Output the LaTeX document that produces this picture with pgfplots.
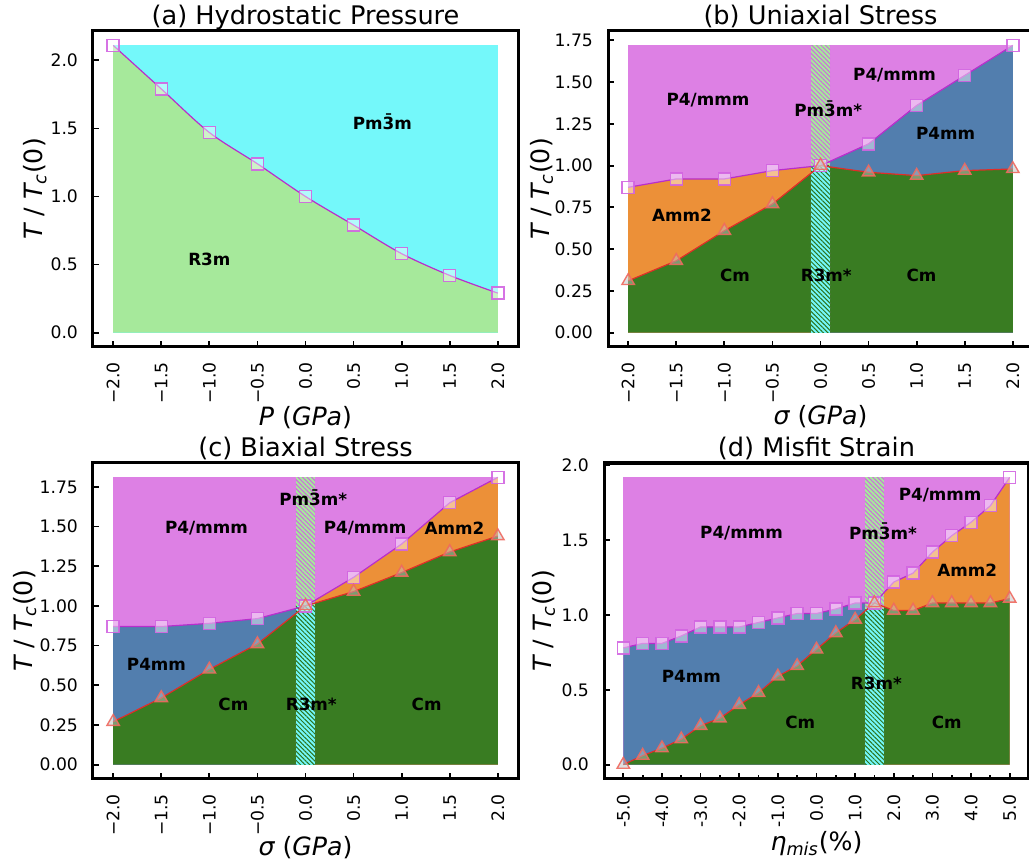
\documentclass[border=0pt]{standalone}
\usepackage{pgfplots}
\pgfplotsset{compat=1.18}
\usepackage{fontspec}
\setmainfont{DejaVu Sans}
\usetikzlibrary{patterns.meta}
\definecolor{cyanR}{RGB}{116,248,250}
\definecolor{lgreenR}{RGB}{166,233,155}
\definecolor{violetR}{RGB}{221,128,228}
\definecolor{orangeR}{RGB}{236,144,56}
\definecolor{blueR}{RGB}{82,126,174}
\definecolor{greenR}{RGB}{57,124,34}
\definecolor{lineV}{RGB}{185,45,205}
\definecolor{lineR}{RGB}{225,45,40}
\definecolor{edgeV}{RGB}{210,100,225}
\definecolor{edgeR}{RGB}{240,105,95}
\definecolor{hatchV}{RGB}{205,110,220}
\definecolor{hatchG}{RGB}{45,115,30}
\pgfplotsset{
  panel/.style={
    scale only axis, width=212.5pt, height=158pt,
    axis line style={line width=1.5pt},
    tick align=inside, xtick pos=bottom, ytick pos=left,
    major tick length=3pt, minor tick length=1.8pt,
    every tick/.style={black, line width=0.9pt},
    xticklabel shift=4pt, yticklabel shift=4pt,
    tick label style={font=\fontsize{8.6}{10}\selectfont},
    xticklabel style={rotate=90, anchor=east},
    label style={font=\fontsize{12.6}{14}\selectfont},
    every axis title shift=0pt,
    title style={font=\fontsize{12.8}{14}\selectfont, at={(0.5,1)}, anchor=base, yshift=3.2pt, inner sep=0pt},
  },
  sq/.style={color=lineV, line width=0.6pt, mark=square*, mark size=3pt,
    mark options={draw=edgeV, fill=white, fill opacity=0.45, draw opacity=0.9, line width=0.7pt}},
  tri/.style={color=lineR, line width=0.6pt, mark=triangle*, mark size=3.6pt,
    mark options={draw=edgeR, fill=lightgray, fill opacity=0.5, draw opacity=0.9, line width=0.7pt}},
  reg/.style={fill=#1, draw=none, forget plot},
  hat/.style={draw=none, pattern={Lines[angle=-45, distance=1.6pt, line width=0.5pt]}, pattern color=#1},
}
\tikzset{ph/.style={font=\bfseries\fontsize{8.4}{9}\selectfont, text=black}}
\newcommand{\TTc}{{\itshape T} / {\itshape T}\textsubscript{\itshape c}(0)}
\begin{document}
\begin{tikzpicture}
% ---------------- (a)
\begin{axis}[panel, at={(46.5pt,260pt)}, anchor=south west,
  xmin=-2.21, xmax=2.21, ymin=-0.1055, ymax=2.2155,
  xtick={-2,-1.5,-1,-0.5,0,0.5,1,1.5,2},
  xticklabels={−2.0,−1.5,−1.0,−0.5,0.0,0.5,1.0,1.5,2.0},
  ytick={0,0.5,1,1.5,2}, yticklabels={0.0,0.5,1.0,1.5,2.0},
  title={(a) Hydrostatic Pressure},
  xlabel={{\itshape P} ({\itshape GPa})}, ylabel={\TTc},
  ylabel style={at={(axis description cs:-0.136,0.5)}, anchor=center},
  xlabel style={at={(axis description cs:0.5,-0.225)}, anchor=center}]
\addplot[reg=cyanR] coordinates {(-2,2.11) (2,2.11)} \closedcycle;
\addplot[reg=lgreenR, smooth] coordinates {(-2,2.11) (-1.5,1.79) (-1,1.47) (-0.5,1.24) (0,1.00) (0.5,0.79) (1,0.58) (1.5,0.42) (2,0.29)} \closedcycle;
\addplot[sq, smooth] coordinates {(-2,2.11) (-1.5,1.79) (-1,1.47) (-0.5,1.24) (0,1.00) (0.5,0.79) (1,0.58) (1.5,0.42) (2,0.29)};
\node[ph] at (axis cs:0.8,1.55) {Pm\=3m};
\node[ph] at (axis cs:-1.0,0.54) {R3m};
\end{axis}
% ---------------- (b)
\begin{axis}[panel, at={(304pt,260pt)}, anchor=south west,
  xmin=-2.21, xmax=2.21, ymin=-0.086, ymax=1.806,
  xtick={-2,-1.5,-1,-0.5,0,0.5,1,1.5,2},
  xticklabels={−2.0,−1.5,−1.0,−0.5,0.0,0.5,1.0,1.5,2.0},
  ytick={0,0.25,0.5,0.75,1,1.25,1.5,1.75},
  yticklabels={0.00,0.25,0.50,0.75,1.00,1.25,1.50,1.75},
  title={(b) Uniaxial Stress},
  xlabel={{\itshape σ} ({\itshape GPa})}, ylabel={\TTc},
  ylabel style={at={(axis description cs:-0.156,0.5)}, anchor=center},
  xlabel style={at={(axis description cs:0.5,-0.22)}, anchor=center}]
\addplot[reg=violetR] coordinates {(-2,1.72) (2,1.72)} \closedcycle;
\addplot[reg=orangeR] coordinates {(-2,0.87) (-1.5,0.92) (-1,0.92) (-0.5,0.97) (0,1.00)} \closedcycle;
\addplot[reg=blueR] coordinates {(0,1.00) (0.5,1.13) (1,1.36) (1.5,1.54) (2,1.72)} \closedcycle;
\addplot[reg=greenR] coordinates {(-2,0.31) (-1.5,0.43) (-1,0.61) (-0.5,0.77) (0,1.00) (0.5,0.96) (1,0.94) (1.5,0.97) (2,0.98)} \closedcycle;
\addplot[reg=lgreenR] coordinates {(-0.1,1.72) (0.1,1.72)} \closedcycle;
\addplot[hat=hatchV, forget plot] coordinates {(-0.1,1.72) (0.1,1.72)} \closedcycle;
\addplot[reg=cyanR] coordinates {(-0.1,1.0) (0.1,1.0)} \closedcycle;
\addplot[hat=hatchG, forget plot] coordinates {(-0.1,1.0) (0.1,1.0)} \closedcycle;
\addplot[sq] coordinates {(-2,0.87) (-1.5,0.92) (-1,0.92) (-0.5,0.97) (0,1.00) (0.5,1.13) (1,1.36) (1.5,1.54) (2,1.72)};
\addplot[tri] coordinates {(-2,0.31) (-1.5,0.43) (-1,0.61) (-0.5,0.77) (0,1.00) (0.5,0.96) (1,0.94) (1.5,0.97) (2,0.98)};
\node[ph] at (axis cs:-1.17,1.39) {P4/mmm};
\node[ph] at (axis cs:0.08,1.34) {Pm\=3m*};
\node[ph] at (axis cs:0.77,1.54) {P4/mmm};
\node[ph] at (axis cs:1.30,1.19) {P4mm};
\node[ph] at (axis cs:-1.44,0.70) {Amm2};
\node[ph] at (axis cs:-0.89,0.34) {Cm};
\node[ph] at (axis cs:0.06,0.34) {R3m*};
\node[ph] at (axis cs:1.05,0.34) {Cm};
\end{axis}
% ---------------- (c)
\begin{axis}[panel, at={(46.5pt,44pt)}, anchor=south west,
  xmin=-2.21, xmax=2.21, ymin=-0.0905, ymax=1.9005,
  xtick={-2,-1.5,-1,-0.5,0,0.5,1,1.5,2},
  xticklabels={−2.0,−1.5,−1.0,−0.5,0.0,0.5,1.0,1.5,2.0},
  ytick={0,0.25,0.5,0.75,1,1.25,1.5,1.75},
  yticklabels={0.00,0.25,0.50,0.75,1.00,1.25,1.50,1.75},
  title={(c) Biaxial Stress},
  xlabel={{\itshape σ} ({\itshape GPa})}, ylabel={\TTc},
  ylabel style={at={(axis description cs:-0.16,0.5)}, anchor=center},
  xlabel style={at={(axis description cs:0.5,-0.218)}, anchor=center}]
\addplot[reg=violetR] coordinates {(-2,1.81) (2,1.81)} \closedcycle;
\addplot[reg=blueR] coordinates {(-2,0.87) (-1.5,0.87) (-1,0.89) (-0.5,0.92) (0,1.00)} \closedcycle;
\addplot[reg=orangeR] coordinates {(0,1.00) (0.5,1.18) (1,1.39) (1.5,1.65) (2,1.81)} \closedcycle;
\addplot[reg=greenR] coordinates {(-2,0.27) (-1.5,0.42) (-1,0.60) (-0.5,0.76) (0,1.00) (0.5,1.09) (1,1.21) (1.5,1.34) (2,1.44)} \closedcycle;
\addplot[reg=lgreenR] coordinates {(-0.1,1.81) (0.1,1.81)} \closedcycle;
\addplot[hat=hatchV, forget plot] coordinates {(-0.1,1.81) (0.1,1.81)} \closedcycle;
\addplot[reg=cyanR] coordinates {(-0.1,1.0) (0.1,1.0)} \closedcycle;
\addplot[hat=hatchG, forget plot] coordinates {(-0.1,1.0) (0.1,1.0)} \closedcycle;
\addplot[sq] coordinates {(-2,0.87) (-1.5,0.87) (-1,0.89) (-0.5,0.92) (0,1.00) (0.5,1.18) (1,1.39) (1.5,1.65) (2,1.81)};
\addplot[tri] coordinates {(-2,0.27) (-1.5,0.42) (-1,0.60) (-0.5,0.76) (0,1.00) (0.5,1.09) (1,1.21) (1.5,1.34) (2,1.44)};
\node[ph] at (axis cs:0.08,1.68) {Pm\=3m*};
\node[ph] at (axis cs:-1.03,1.49) {P4/mmm};
\node[ph] at (axis cs:0.62,1.49) {P4/mmm};
\node[ph] at (axis cs:1.55,1.49) {Amm2};
\node[ph] at (axis cs:-1.55,0.63) {P4mm};
\node[ph] at (axis cs:-0.75,0.38) {Cm};
\node[ph] at (axis cs:0.06,0.38) {R3m*};
\node[ph] at (axis cs:1.26,0.38) {Cm};
\end{axis}
% ---------------- (d)
\begin{axis}[panel, at={(302pt,44pt)}, anchor=south west,
  xmin=-5.5, xmax=5.5, ymin=-0.096, ymax=2.016,
  xtick={-5,-4,-3,-2,-1,0,1,2,3,4,5},
  xticklabels={-5.0,-4.0,-3.0,-2.0,-1.0,0.0,1.0,2.0,3.0,4.0,5.0},
  minor xtick={-4.5,-3.5,-2.5,-1.5,-0.5,0.5,1.5,2.5,3.5,4.5},
  ytick={0,0.5,1,1.5,2}, yticklabels={0.0,0.5,1.0,1.5,2.0},
  title={(d) Misfit Strain},
  xlabel={{\itshape η}\textsubscript{\itshape mis}(\%)}, ylabel={\TTc},
  ylabel style={at={(axis description cs:-0.142,0.5)}, anchor=center},
  xlabel style={at={(axis description cs:0.5,-0.204)}, anchor=center}]
\addplot[reg=violetR] coordinates {(-5,1.92) (5,1.92)} \closedcycle;
\addplot[reg=blueR] coordinates {(-5,0.78) (-4.5,0.81) (-4,0.81) (-3.5,0.86) (-3,0.92) (-2.5,0.92) (-2,0.92) (-1.5,0.95) (-1,0.98) (-0.5,1.01) (0,1.01) (0.5,1.04) (1,1.08) (1.5,1.08)} \closedcycle;
\addplot[reg=orangeR] coordinates {(1.5,1.08) (2,1.22) (2.5,1.28) (3,1.42) (3.5,1.53) (4,1.62) (4.5,1.73) (5,1.92)} \closedcycle;
\addplot[reg=greenR] coordinates {(-5,0.0) (-4.5,0.06) (-4,0.11) (-3.5,0.17) (-3,0.26) (-2.5,0.31) (-2,0.40) (-1.5,0.48) (-1,0.59) (-0.5,0.66) (0,0.77) (0.5,0.88) (1,0.97) (1.5,1.08) (2,1.03) (2.5,1.03) (3,1.08) (3.5,1.08) (4,1.08) (4.5,1.08) (5,1.11)} \closedcycle;
\addplot[reg=lgreenR] coordinates {(1.25,1.92) (1.75,1.92)} \closedcycle;
\addplot[hat=hatchV, forget plot] coordinates {(1.25,1.92) (1.75,1.92)} \closedcycle;
\addplot[reg=cyanR] coordinates {(1.25,1.04) (1.75,1.04)} \closedcycle;
\addplot[hat=hatchG, forget plot] coordinates {(1.25,1.04) (1.75,1.04)} \closedcycle;
\addplot[sq] coordinates {(-5,0.78) (-4.5,0.81) (-4,0.81) (-3.5,0.86) (-3,0.92) (-2.5,0.92) (-2,0.92) (-1.5,0.95) (-1,0.98) (-0.5,1.01) (0,1.01) (0.5,1.04) (1,1.08) (1.5,1.08) (2,1.22) (2.5,1.28) (3,1.42) (3.5,1.53) (4,1.62) (4.5,1.73) (5,1.92)};
\addplot[tri] coordinates {(-5,0.0) (-4.5,0.06) (-4,0.11) (-3.5,0.17) (-3,0.26) (-2.5,0.31) (-2,0.40) (-1.5,0.48) (-1,0.59) (-0.5,0.66) (0,0.77) (0.5,0.88) (1,0.97) (1.5,1.08) (2,1.03) (2.5,1.03) (3,1.08) (3.5,1.08) (4,1.08) (4.5,1.08) (5,1.11)};
\node[ph] at (axis cs:-1.94,1.55) {P4/mmm};
\node[ph] at (axis cs:1.72,1.56) {Pm\=3m*};
\node[ph] at (axis cs:3.20,1.80) {P4/mmm};
\node[ph] at (axis cs:3.90,1.30) {Amm2};
\node[ph] at (axis cs:-3.24,0.59) {P4mm};
\node[ph] at (axis cs:1.55,0.54) {R3m*};
\node[ph] at (axis cs:-0.42,0.28) {Cm};
\node[ph] at (axis cs:3.37,0.28) {Cm};
\end{axis}
\pgfresetboundingbox
\path[use as bounding box] (0,0) rectangle (514.5pt,433.5pt);
\end{tikzpicture}
\end{document}
